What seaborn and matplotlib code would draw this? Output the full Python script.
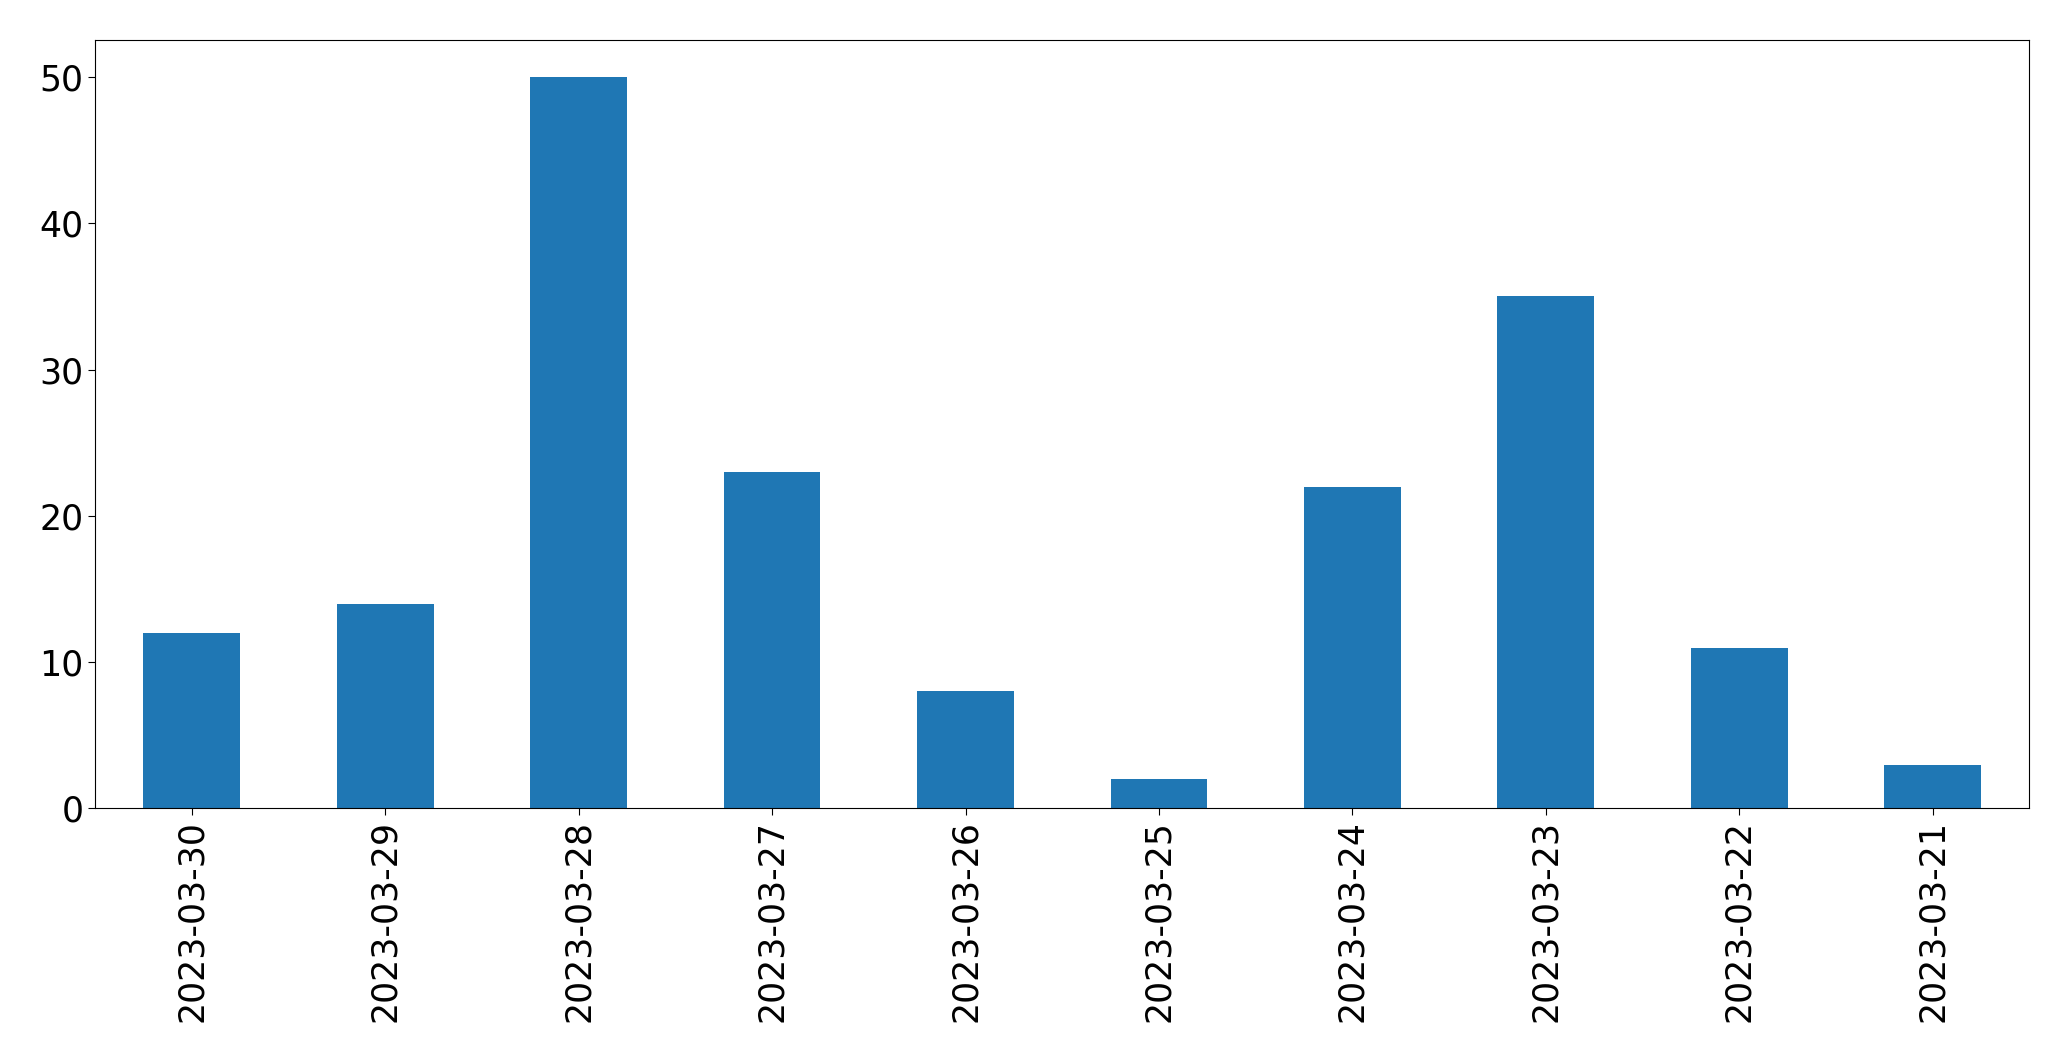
import matplotlib
matplotlib.use("Agg")
import matplotlib.pyplot as plt
import seaborn as sns
import pandas as pd

dates = ["2023-03-30", "2023-03-29", "2023-03-28", "2023-03-27", "2023-03-26",
         "2023-03-25", "2023-03-24", "2023-03-23", "2023-03-22", "2023-03-21"]
counts = [12, 14, 50, 23, 8, 2, 22, 35, 11, 3]

sns.set_style("ticks")
plt.rcParams['font.family'] = ['DejaVu Sans']
plt.rcParams['xtick.color'] = 'black'
plt.rcParams['ytick.color'] = 'black'
plt.rcParams['xtick.labelcolor'] = 'black'
plt.rcParams['ytick.labelcolor'] = 'black'

df = pd.DataFrame({"date": dates, "count": counts})
fig = plt.figure(figsize=(20.71, 10.61), dpi=100)
ax = fig.add_axes([0.0459, 0.238, 0.934, 0.724])
sns.barplot(data=df, x="date", y="count", color="#1f77b4", saturation=1,
            width=0.5, ax=ax, order=dates, linewidth=0)
ax.set_xlim(-0.5, len(dates) - 0.5)
ax.set_ylim(0, 52.5)
ax.set_xlabel("")
ax.set_ylabel("")
ax.tick_params(axis='both', labelsize=25, length=5, colors='black')
plt.setp(ax.get_xticklabels(), rotation=90)
for s in ax.spines.values():
    s.set_visible(True)
    s.set_color("black")
    s.set_linewidth(0.8)
fig.savefig("out.png", dpi=100)
